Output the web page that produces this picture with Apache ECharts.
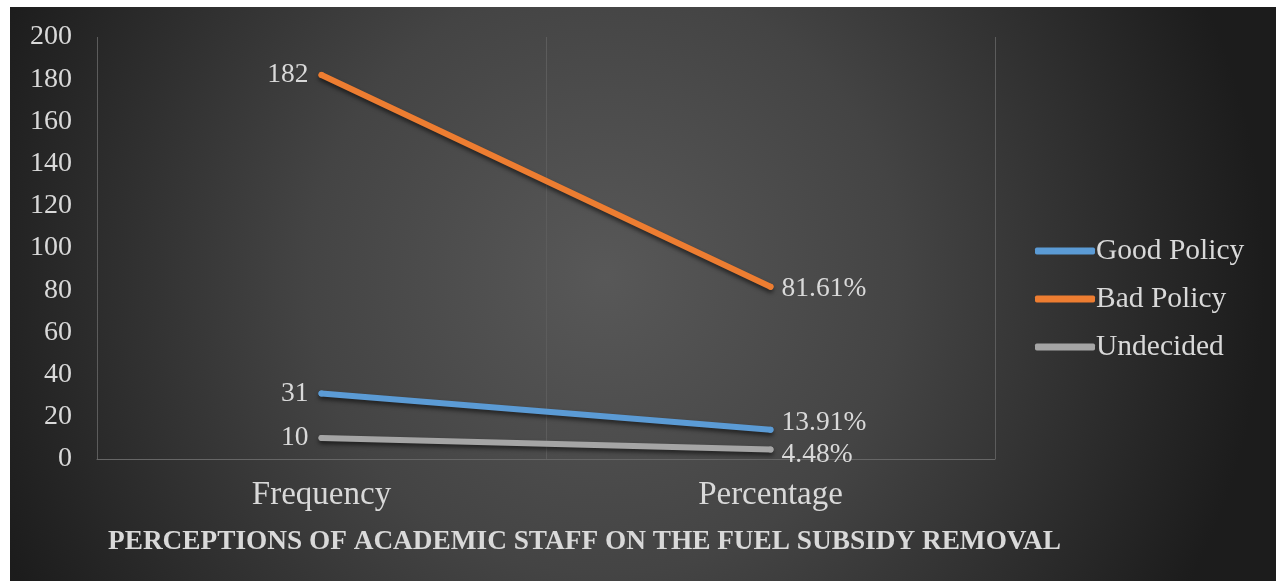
<!DOCTYPE html>
<html>
<head>
<meta charset="utf-8">
<script src="https://cdn.jsdelivr.net/npm/echarts@6/dist/echarts.min.js"></script>
<style>
  html, body { margin: 0; padding: 0; background: #ffffff; width: 1276px; height: 581px; overflow: hidden; }
  #chart { position: absolute; left: 10px; top: 7px; width: 1266px; height: 574px; }
</style>
</head>
<body>
<div id="chart"></div>
<script>
// Survey responses: frequency count and share of respondents
const categories = ['Frequency', 'Percentage'];
const goodPolicy = [31, 13.91];
const badPolicy = [182, 81.61];
const undecided = [10, 4.48];
const yTicks = { min: 0, max: 200, interval: 20 };
const axisTitle = 'PERCEPTIONS OF ACADEMIC STAFF ON THE FUEL SUBSIDY REMOVAL';

const serif = '"Liberation Serif", "Times New Roman", serif';
const textColor = '#d9d9d9';

function fmt(p) {
  return p.dataIndex === 1 ? p.value.toFixed(2) + '%' : String(p.value);
}

function makeSeries(name, data, color, rightOffset) {
  return {
    name: name,
    type: 'line',
    data: data,
    symbol: 'circle',
    symbolSize: 6,
    showSymbol: true,
    lineStyle: {
      width: 6, color: color, cap: 'round',
      shadowColor: 'rgba(0,0,0,0.55)', shadowBlur: 4, shadowOffsetY: 3
    },
    itemStyle: { color: color, borderWidth: 0 },
    label: {
      show: true,
      color: textColor,
      fontFamily: serif,
      fontSize: 27.5,
      formatter: fmt,
      position: 'left',
      distance: 10
    },
    labelLayout: function (params) {
      if (params.dataIndex === 1) {
        return {
          x: params.rect.x + params.rect.width + 8,
          y: params.rect.y + params.rect.height / 2 + rightOffset,
          align: 'left',
          verticalAlign: 'middle'
        };
      }
      return {};
    },
    z: 3
  };
}

const chart = echarts.init(document.getElementById('chart'), null, { renderer: 'canvas' });

chart.setOption({
  animation: false,
  backgroundColor: {
    type: 'radial', x: 0.47, y: 0.47, r: 1.15,
    colorStops: [
      { offset: 0, color: '#585858' },
      { offset: 0.45, color: '#444444' },
      { offset: 1, color: '#1c1c1c' }
    ]
  },
  grid: { left: 87, right: 281, top: 30, bottom: 122 },
  title: {
    text: axisTitle,
    left: 93,
    top: 516,
    textStyle: { color: textColor, fontFamily: serif, fontSize: 27.3, fontWeight: 'bold' }
  },
  legend: {
    orient: 'vertical',
    left: 1020,
    top: 224,
    itemWidth: 60,
    itemHeight: 7,
    itemGap: 18,
    icon: 'roundRect',
    data: ['Good Policy', 'Bad Policy', 'Undecided'],
    textStyle: { color: textColor, fontFamily: serif, fontSize: 29.5, lineHeight: 30, padding: [0, 0, 0, -4] }
  },
  xAxis: {
    type: 'category',
    data: categories,
    boundaryGap: true,
    axisLine: { show: true, lineStyle: { color: '#666666', width: 1 } },
    axisTick: { show: false },
    splitLine: { show: true, interval: 0, lineStyle: { color: '#5c5c5c', width: 1 } },
    axisLabel: { color: textColor, fontFamily: serif, fontSize: 33, margin: 20, interval: 0 }
  },
  yAxis: {
    type: 'value',
    min: yTicks.min,
    max: yTicks.max,
    interval: yTicks.interval,
    axisLine: { show: false },
    axisTick: { show: false },
    splitLine: { show: false },
    axisLabel: { color: textColor, fontFamily: serif, fontSize: 28, margin: 25 }
  },
  series: [
    makeSeries('Good Policy', goodPolicy, '#5b9bd5', -7),
    makeSeries('Bad Policy', badPolicy, '#ed7d31', 2),
    makeSeries('Undecided', undecided, '#a5a5a5', 5)
  ]
});
</script>
</body>
</html>
